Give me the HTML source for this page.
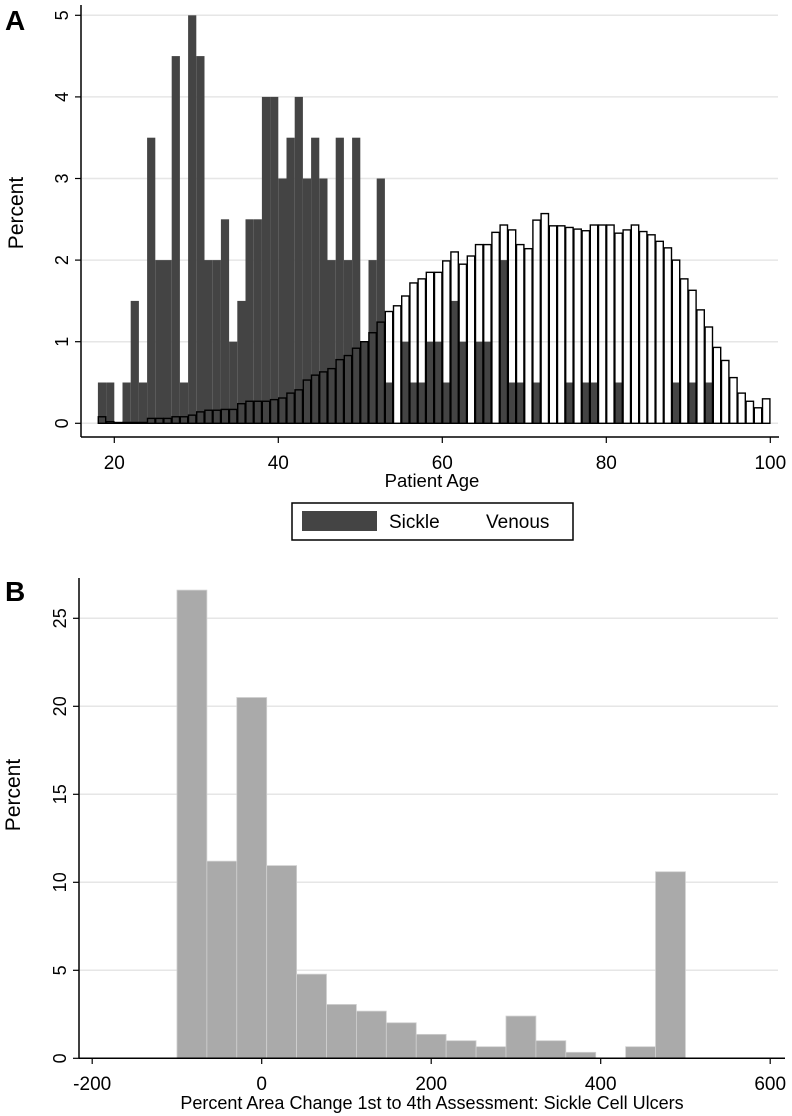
<!DOCTYPE html>
<html><head><meta charset="utf-8"><style>
html,body{margin:0;padding:0;background:#fff}
svg{display:block;font-family:"Liberation Sans",Arial,sans-serif}
</style></head><body>
<svg id="chart" width="792" height="1116" viewBox="0 0 792 1116" xmlns="http://www.w3.org/2000/svg">
<g id="pa"></g>
<g id="pb"></g>
</svg>
<script>
// Panel A data
const ageStart = 18;
const sickleVals = [0.5,0.5,0,0.5,1.5,0.5,3.5,2,2,4.5,0.5,5,4.5,2,2,2.5,1,1.5,2.5,2.5,4,4,3,3.5,4,3,3.5,3,2,3.5,2,3.5,1,2,3,0.5,0,1,0.5,0.5,1,1,0.5,1.5,1,0,1,1,0,2,0.5,0.5,0,0.5,0,0,0,0.5,0,0.5,0.5,0,0,0.5,0,0,0,0,0,0,0.5,0,0.5,0,0.5,0,0,0,0,0,0,0];
const venousVals = [0.08,0.02,0.01,0.01,0.01,0.01,0.06,0.06,0.06,0.08,0.08,0.1,0.14,0.16,0.16,0.17,0.17,0.24,0.27,0.27,0.27,0.29,0.31,0.37,0.41,0.53,0.59,0.63,0.67,0.78,0.83,0.92,1.0,1.11,1.24,1.37,1.44,1.56,1.72,1.77,1.85,1.85,1.99,2.1,1.95,2.05,2.19,2.19,2.34,2.43,2.37,2.19,2.14,2.49,2.57,2.42,2.42,2.4,2.38,2.36,2.43,2.43,2.43,2.33,2.37,2.43,2.35,2.31,2.23,2.15,2.0,1.77,1.63,1.39,1.18,0.93,0.77,0.56,0.37,0.27,0.19,0.30];
const aXTicks = [20,40,60,80,100];
const aYTicks = [0,1,2,3,4,5];
// Panel B data
const bBinStart = -100;
const bBinWidth = 600/17;
const bVals = [26.6,11.2,20.5,10.95,4.78,3.06,2.68,2.02,1.36,1.0,0.66,2.4,1.0,0.34,0,0.66,10.6];
const bXTicks = [-200,0,200,400,600];
const bYTicks = [0,5,10,15,20,25];

const NS='http://www.w3.org/2000/svg';
function mk(parent,tag,attrs,text){const e=document.createElementNS(NS,tag);for(const k in attrs)e.setAttribute(k,attrs[k]);if(text!==undefined)e.textContent=text;parent.appendChild(e);return e;}

// ---- Panel A ----
const pa=document.getElementById('pa');
const ax=v=>114.3+(v-20)*8.2;
const ay=v=>423.3-v*81.6;
let t=mk(pa,'text',{x:5,y:30,'font-size':28,'font-weight':'bold'},'A');


aYTicks.forEach(v=>{
  const g=mk(pa,'line',{x1:82,x2:778,y1:ay(v),y2:ay(v),stroke:'#e6e6e6','stroke-width':1.5});
  
  
});
sickleVals.forEach((v,i)=>{
  if(v<=0)return;
  const r=mk(pa,'rect',{x:ax(ageStart+i),y:ay(v),width:8.2,height:ay(0)-ay(v),fill:'#444'});
  
  
});
venousVals.forEach((v,i)=>{
  const r=mk(pa,'rect',{x:ax(ageStart+i)+0.4,y:ay(v),width:7.4,height:ay(0)-ay(v),fill:'none',stroke:'#000','stroke-width':1.4});
  
  
});
let l=mk(pa,'line',{x1:81,x2:81,y1:5,y2:437,stroke:'#000','stroke-width':1.5});


l=mk(pa,'line',{x1:81,x2:779,y1:437,y2:437,stroke:'#000','stroke-width':1.5});


aYTicks.forEach(v=>{
  mk(pa,'line',{x1:75,x2:81,y1:ay(v),y2:ay(v),stroke:'#000','stroke-width':1.2});
  const tx=mk(pa,'text',{x:68,y:ay(v),'font-size':18,'text-anchor':'middle',transform:`rotate(-90 68 ${ay(v)})`},String(v));
  
  
});
aXTicks.forEach(v=>{
  mk(pa,'line',{x1:ax(v),x2:ax(v),y1:437,y2:443,stroke:'#000','stroke-width':1.2});
  const tx=mk(pa,'text',{x:ax(v),y:469,'font-size':19,'text-anchor':'middle'},String(v));
  
  
});
t=mk(pa,'text',{x:432,y:487,'font-size':18.5,'text-anchor':'middle'},'Patient Age');


t=mk(pa,'text',{x:23,y:213,'font-size':21,'text-anchor':'middle',transform:'rotate(-90 23 213)'},'Percent');


const lg=mk(pa,'g',{});


mk(lg,'rect',{x:292,y:503,width:281,height:37,fill:'#fff',stroke:'#000','stroke-width':1.5});
let s=mk(lg,'rect',{x:302,y:511,width:75,height:20,fill:'#444'});


t=mk(lg,'text',{x:389,y:528,'font-size':19},'Sickle');


t=mk(lg,'text',{x:486,y:528,'font-size':19},'Venous');



// ---- Panel B ----
const pb=document.getElementById('pb');
const bx=v=>261.7+v*0.8475;
const by=v=>1058.3-v*17.6;
t=mk(pb,'text',{x:5,y:601,'font-size':28,'font-weight':'bold'},'B');


bYTicks.forEach(v=>{
  const g=mk(pb,'line',{x1:80,x2:778,y1:by(v),y2:by(v),stroke:'#e6e6e6','stroke-width':1.5});
  
  
});
bVals.forEach((v,i)=>{
  if(v<=0)return;
  const x0=bx(bBinStart+i*bBinWidth), x1=bx(bBinStart+(i+1)*bBinWidth);
  const r=mk(pb,'rect',{x:x0,y:by(v),width:x1-x0,height:by(0)-by(v),fill:'#aaa',stroke:'#d0d0d0','stroke-width':0.8});
  
  
});
l=mk(pb,'line',{x1:79,x2:79,y1:578,y2:1058.3,stroke:'#000','stroke-width':1.5});


l=mk(pb,'line',{x1:79,x2:785,y1:1058.3,y2:1058.3,stroke:'#000','stroke-width':1.5});


bYTicks.forEach(v=>{
  mk(pb,'line',{x1:73,x2:79,y1:by(v),y2:by(v),stroke:'#000','stroke-width':1.2});
  const tx=mk(pb,'text',{x:66,y:by(v),'font-size':18,'text-anchor':'middle',transform:`rotate(-90 66 ${by(v)})`},String(v));
  
  
});
bXTicks.forEach(v=>{
  mk(pb,'line',{x1:bx(v),x2:bx(v),y1:1058.3,y2:1064,stroke:'#000','stroke-width':1.2});
  const tx=mk(pb,'text',{x:bx(v),y:1090,'font-size':19,'text-anchor':'middle'},String(v));
  
  
});
t=mk(pb,'text',{x:432,y:1109,'font-size':18,'text-anchor':'middle'},'Percent Area Change 1st to 4th Assessment: Sickle Cell Ulcers');


t=mk(pb,'text',{x:20,y:795,'font-size':21,'text-anchor':'middle',transform:'rotate(-90 20 795)'},'Percent');


</script>
</body></html>
